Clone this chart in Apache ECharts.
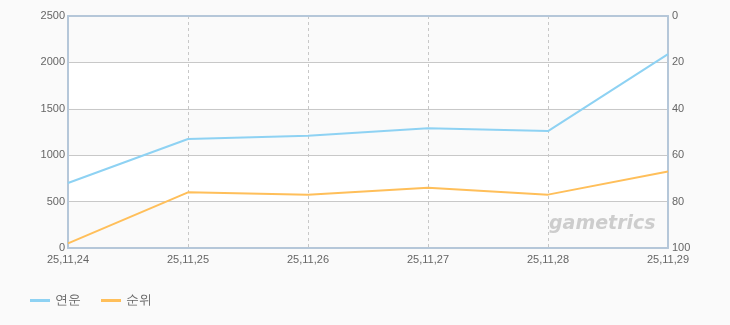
<!DOCTYPE html>
<html><head><meta charset="utf-8">
<script src="https://cdn.jsdelivr.net/npm/echarts@6/dist/echarts.min.js"></script>
<style>html,body{margin:0;padding:0;background:#fafafa}#c{width:730px;height:325px}</style>
</head><body><div id="c"></div>
<script>
const categories = ['25,11,24','25,11,25','25,11,26','25,11,27','25,11,28','25,11,29'];
const yeonun = [700, 1175, 1210, 1290, 1260, 2090];
const rank = [98, 76, 77, 74, 77, 67];
const leftTicks = [0, 500, 1000, 1500, 2000, 2500];
const rightTicks = [0, 20, 40, 60, 80, 100];

const chart = echarts.init(document.getElementById('c'));
const font = 'Liberation Sans';
const border = {show: true, onZero: false, lineStyle: {color: '#b5c7d9', width: 2}};
chart.setOption({
  backgroundColor: '#fafafa',
  animation: false,
  grid: {left: 68, right: 62, top: 16, bottom: 77},
  legend: {
    left: 25, bottom: 13, itemWidth: 20, itemHeight: 3, itemGap: 20,
    icon: 'rect',
    textStyle: {color: '#666', fontSize: 13, fontFamily: font},
    data: ['연운', '순위']
  },
  graphic: [{
    type: 'text', left: 549, top: 215, z: 100, silent: true,
    style: {text: 'gametrics', fill: '#cdcdcd', font: 'italic bold 19px "DejaVu Sans"'}
  }],
  xAxis: [{
    type: 'category', data: categories, boundaryGap: false,
    axisLine: border, axisTick: {show: false},
    axisLabel: {color: '#666', fontSize: 11, fontFamily: font, margin: 6, interval: 0},
    splitLine: {show: true, interval: (i) => i > 0 && i < categories.length - 1,
      lineStyle: {color: '#c8c8c8', type: [3, 3], width: 1}}
  }, {
    type: 'category', data: categories, boundaryGap: false, position: 'top',
    axisLine: border, axisTick: {show: false}, axisLabel: {show: false}, splitLine: {show: false}
  }],
  yAxis: [{
    type: 'value', min: 0, max: 2500, interval: 500,
    axisLine: border, axisTick: {show: false},
    axisLabel: {color: '#666', fontSize: 11, fontFamily: font, margin: 3,
      formatter: v => leftTicks.includes(v) ? String(v) : ''},
    splitLine: {lineStyle: {color: '#c8c8c8', width: 1}},
    splitArea: {show: true, areaStyle: {color: ['#fafafa', '#ffffff']}}
  }, {
    type: 'value', min: 0, max: 100, interval: 20, inverse: true,
    axisLine: border, axisTick: {show: false},
    axisLabel: {color: '#666', fontSize: 11, fontFamily: font, margin: 4,
      formatter: v => rightTicks.includes(v) ? String(v) : ''},
    splitLine: {show: false}
  }],
  series: [{
    name: '연운', type: 'line', data: yeonun, yAxisIndex: 0,
    symbol: 'none', color: '#8ed2f3', lineStyle: {width: 2, color: '#8ed2f3'}
  }, {
    name: '순위', type: 'line', data: rank, yAxisIndex: 1,
    symbol: 'none', color: '#ffbf5a', lineStyle: {width: 2, color: '#ffbf5a'}
  }]
});
</script></body></html>
